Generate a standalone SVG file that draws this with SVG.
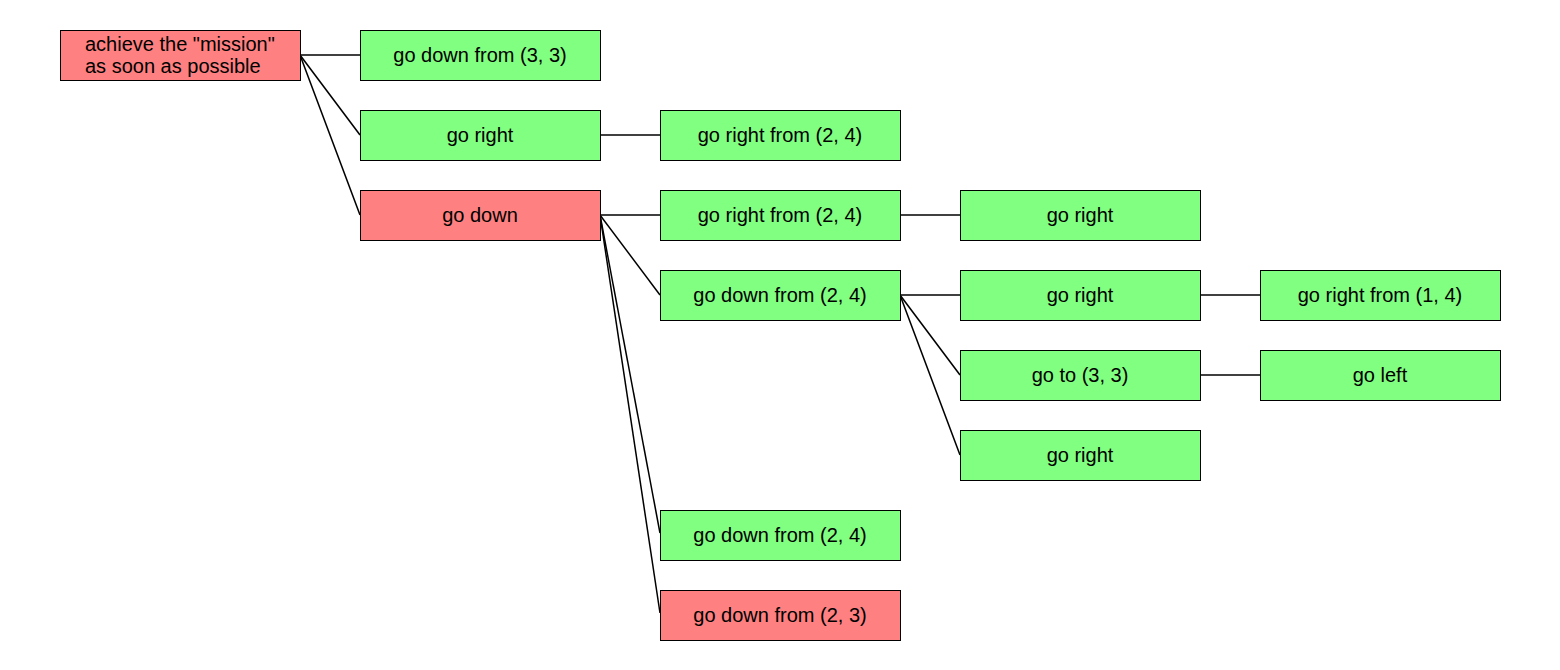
<svg xmlns="http://www.w3.org/2000/svg" width="1560" height="670" viewBox="0 0 1560 670">
<style>
.n rect{stroke:#000;stroke-width:1}
.g rect{fill:#80ff80}
.r rect{fill:#ff8080}
text{font-family:"Liberation Sans",Arial,sans-serif;font-size:20px;fill:#000;text-anchor:middle}
.e line{stroke:#000;stroke-width:1.5}
</style>
<rect width="1560" height="670" fill="#fff"/>
<g id="edges" class="e">
<line x1="300" y1="55" x2="360" y2="55"/>
<line x1="300" y1="55" x2="360" y2="135"/>
<line x1="300" y1="55" x2="360" y2="215"/>
<line x1="600" y1="135" x2="660" y2="135"/>
<line x1="600" y1="215" x2="660" y2="215"/>
<line x1="600" y1="215" x2="660" y2="295"/>
<line x1="600" y1="215" x2="660" y2="533"/>
<line x1="600" y1="215" x2="660" y2="613"/>
<line x1="900" y1="215" x2="960" y2="215"/>
<line x1="900" y1="295" x2="960" y2="295"/>
<line x1="900" y1="295" x2="960" y2="375"/>
<line x1="900" y1="295" x2="960" y2="455"/>
<line x1="1200" y1="295" x2="1260" y2="295"/>
<line x1="1200" y1="375" x2="1260" y2="375"/>
</g>
<g id="n0" class="n r"><rect x="60.5" y="30.5" width="240" height="50"/><text x="85" y="51" style="text-anchor:start">achieve the "mission"</text><text x="85" y="73" style="text-anchor:start">as soon as possible</text></g>
<g id="n1" class="n g"><rect x="360.5" y="30.5" width="240" height="50"/><text x="480" y="62">go down from (3, 3)</text></g>
<g id="n2" class="n g"><rect x="360.5" y="110.5" width="240" height="50"/><text x="480" y="142">go right</text></g>
<g id="n3" class="n r"><rect x="360.5" y="190.5" width="240" height="50"/><text x="480" y="222">go down</text></g>
<g id="n4" class="n g"><rect x="660.5" y="110.5" width="240" height="50"/><text x="780" y="142">go right from (2, 4)</text></g>
<g id="n5" class="n g"><rect x="660.5" y="190.5" width="240" height="50"/><text x="780" y="222">go right from (2, 4)</text></g>
<g id="n6" class="n g"><rect x="660.5" y="270.5" width="240" height="50"/><text x="780" y="302">go down from (2, 4)</text></g>
<g id="n7" class="n g"><rect x="660.5" y="510.5" width="240" height="50"/><text x="780" y="542">go down from (2, 4)</text></g>
<g id="n8" class="n r"><rect x="660.5" y="590.5" width="240" height="50"/><text x="780" y="622">go down from (2, 3)</text></g>
<g id="n9" class="n g"><rect x="960.5" y="190.5" width="240" height="50"/><text x="1080" y="222">go right</text></g>
<g id="n10" class="n g"><rect x="960.5" y="270.5" width="240" height="50"/><text x="1080" y="302">go right</text></g>
<g id="n11" class="n g"><rect x="960.5" y="350.5" width="240" height="50"/><text x="1080" y="382">go to (3, 3)</text></g>
<g id="n12" class="n g"><rect x="960.5" y="430.5" width="240" height="50"/><text x="1080" y="462">go right</text></g>
<g id="n13" class="n g"><rect x="1260.5" y="270.5" width="240" height="50"/><text x="1380" y="302">go right from (1, 4)</text></g>
<g id="n14" class="n g"><rect x="1260.5" y="350.5" width="240" height="50"/><text x="1380" y="382">go left</text></g>
</svg>
